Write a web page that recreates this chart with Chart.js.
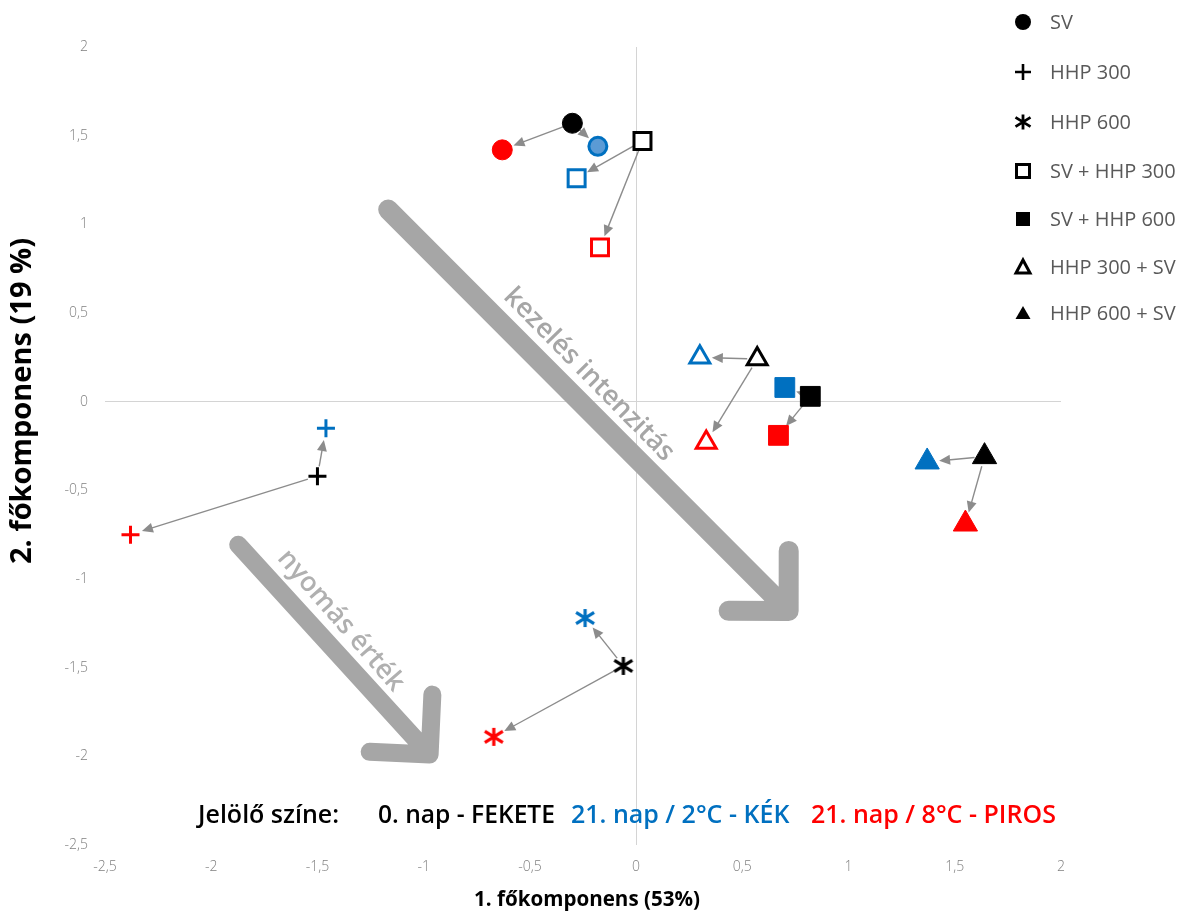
<!DOCTYPE html>
<html><head><meta charset="utf-8">
<script src="https://cdn.jsdelivr.net/npm/chart.js@4/dist/chart.umd.min.js"></script>
<style>html,body{margin:0;padding:0;background:#fff}#wrap{width:1181px;height:915px;position:relative}canvas{display:block}</style>
</head><body><div id="wrap"><canvas id="c" width="1181" height="915"></canvas></div>
<script>
// ---- data ----
const treatments = ['SV','HHP 300','HHP 600','SV + HHP 300','SV + HHP 600','HHP 300 + SV','HHP 600 + SV'];
const day0X  = [-0.30,-1.50,-0.06, 0.03, 0.82, 0.57, 1.64];
const day0Y  = [ 1.57,-0.42,-1.49, 1.47, 0.03, 0.24,-0.31];
const kekX   = [-0.18,-1.46,-0.24,-0.28, 0.70, 0.30, 1.37];
const kekY   = [ 1.44,-0.15,-1.22, 1.26, 0.08, 0.25,-0.34];
const pirosX = [-0.63,-2.38,-0.67,-0.17, 0.67, 0.33, 1.55];
const pirosY = [ 1.42,-0.75,-1.89, 0.87,-0.19,-0.23,-0.69];
const axisMin = -2.5, axisMax = 2, axisStep = 0.5;
const xTitle = '1. főkomponens (53%)';
const yTitle = '2. főkomponens (19 %)';
const colorLegend = ['Jelölő színe:', '0. nap - FEKETE', '21. nap / 2°C - KÉK', '21. nap / 8°C - PIROS'];
const arrowLabels = ['kezelés intenzitás', 'nyomás érték'];

// ---- styling ----
const BLACK = '#000000', BLUE = '#0070C0', RED = '#FF0000', BLUE_LIGHT = '#5B9BD5';

function makeStar(color, size, half, lw) {
  const c = document.createElement('canvas');
  c.width = size; c.height = size;
  const g = c.getContext('2d');
  const m = size / 2;
  g.strokeStyle = color; g.lineWidth = lw; g.lineCap = 'butt';
  g.beginPath();
  g.moveTo(m, m - half); g.lineTo(m, m + half);
  g.moveTo(m - half, m - half * 0.62); g.lineTo(m + half, m + half * 0.62);
  g.moveTo(m - half, m + half * 0.62); g.lineTo(m + half, m - half * 0.62);
  g.stroke();
  return c;
}

function seriesStyle(color, circleFill, circleBorderW) {
  return {
    pointStyle: ['circle', 'cross', makeStar(color, 24, 9, 3.2), 'rect', 'rect', 'triangle', 'triangle'],
    pointRadius: [10, 9, 10, 12, 14, 11.5, 14],
    backgroundColor: [circleFill, color, color, '#ffffff', color, '#ffffff', color],
    borderColor: color,
    borderWidth: [circleBorderW, 3, 0, 3, 1, 3, 1]
  };
}

function pts(xs, ys) { return xs.map((x, i) => ({x: x, y: ys[i]})); }

const datasets = [
  Object.assign({label: colorLegend[1], data: pts(day0X, day0Y)}, seriesStyle(BLACK, BLACK, 1)),
  Object.assign({label: colorLegend[2], data: pts(kekX, kekY)}, seriesStyle(BLUE, BLUE_LIGHT, 3)),
  Object.assign({label: colorLegend[3], data: pts(pirosX, pirosY)}, seriesStyle(RED, RED, 1))
];
datasets[1].pointRadius = [9, 9, 10, 12, 14, 11.5, 14];

const fmt = v => String(Math.round(v * 10) / 10).replace('.', ',');

// ---- plugins ----
function smallArrow(ctx, x1, y1, x2, y2, g1, g2) {
  const dx = x2 - x1, dy = y2 - y1, L = Math.hypot(dx, dy);
  const ux = dx / L, uy = dy / L;
  const sx = x1 + ux * g1, sy = y1 + uy * g1, ex = x2 - ux * g2, ey = y2 - uy * g2;
  const hl = 11, hw = 5;
  ctx.strokeStyle = '#8c8c8c'; ctx.fillStyle = '#8c8c8c'; ctx.lineWidth = 1.4;
  const bx = ex - ux * hl, by = ey - uy * hl;
  if ((bx - sx) * ux + (by - sy) * uy > 0) {
    ctx.beginPath(); ctx.moveTo(sx, sy); ctx.lineTo(bx + ux * 2, by + uy * 2); ctx.stroke();
  }
  ctx.beginPath(); ctx.moveTo(ex, ey);
  ctx.lineTo(bx - uy * hw, by + ux * hw); ctx.lineTo(bx + uy * hw, by - ux * hw);
  ctx.closePath(); ctx.fill();
}

function bigArrow(ctx, x1, y1, x2, y2, lw, arm) {
  const dx = x2 - x1, dy = y2 - y1, L = Math.hypot(dx, dy);
  const ux = -dx / L, uy = -dy / L;
  const c = Math.cos(Math.PI / 4), s = Math.sin(Math.PI / 4);
  ctx.save();
  ctx.strokeStyle = '#a6a6a6'; ctx.lineWidth = lw; ctx.lineCap = 'round'; ctx.lineJoin = 'round';
  ctx.beginPath(); ctx.moveTo(x1, y1); ctx.lineTo(x2, y2);
  ctx.moveTo(x2 + (ux * c - uy * s) * arm, y2 + (ux * s + uy * c) * arm);
  ctx.lineTo(x2, y2);
  ctx.lineTo(x2 + (ux * c + uy * s) * arm, y2 + (-ux * s + uy * c) * arm);
  ctx.stroke();
  ctx.restore();
}

function rotText(ctx, text, x, y, angDeg, font, color, maxW) {
  ctx.save();
  ctx.translate(x, y); ctx.rotate(angDeg * Math.PI / 180);
  ctx.font = font; ctx.fillStyle = color; ctx.textAlign = 'center'; ctx.textBaseline = 'middle';
  ctx.fillText(text, 0, 0, maxW);
  ctx.restore();
}

const annotations = {
  id: 'annotations',
  beforeDatasetsDraw(chart) {
    const {ctx, scales: {x, y}} = chart;
    ctx.save();
    bigArrow(ctx, x.getPixelForValue(-1.167), y.getPixelForValue(1.083), x.getPixelForValue(0.718), y.getPixelForValue(-1.18), 20, 60);
    bigArrow(ctx, x.getPixelForValue(-1.873), y.getPixelForValue(-0.807), x.getPixelForValue(-0.972), y.getPixelForValue(-1.99), 18, 60);
    rotText(ctx, arrowLabels[0], x.getPixelForValue(-0.222), y.getPixelForValue(0.152), 45.5, '600 27px "Open Sans"', '#a6a6a6', 238);
    rotText(ctx, arrowLabels[1], x.getPixelForValue(-1.39), y.getPixelForValue(-1.235), 49, '600 27px "Open Sans"', '#b0b0b0', 178);
    for (let i = 0; i < treatments.length; i++) {
      const x0 = x.getPixelForValue(day0X[i]), y0 = y.getPixelForValue(day0Y[i]);
      smallArrow(ctx, x0, y0, x.getPixelForValue(kekX[i]), y.getPixelForValue(kekY[i]), 10, 12);
      smallArrow(ctx, x0, y0, x.getPixelForValue(pirosX[i]), y.getPixelForValue(pirosY[i]), 10, 12);
    }
    ctx.restore();
  },
  afterDraw(chart) {
    const {ctx} = chart;
    ctx.save();
    rotText(ctx, yTitle, 23, 401, -90, 'bold 29px "Open Sans"', '#000', 328);
    ctx.font = 'bold 22px "Open Sans"'; ctx.fillStyle = '#000'; ctx.textAlign = 'center'; ctx.textBaseline = 'middle';
    ctx.fillText(xTitle, 587, 900, 226);
    const segs = [[198, 144, '#000'], [378, 177, '#000'], [571, 224, BLUE], [811, 247, RED]];
    ctx.textAlign = 'left'; ctx.textBaseline = 'alphabetic';
    segs.forEach((s, i) => {
      ctx.font = '600 25px "Open Sans"'; ctx.fillStyle = s[2];
      ctx.fillText(colorLegend[i], s[0], 823, s[1]);
    });
    const rows = [22, 72, 122, 171, 219, 267, 313];
    const mx = 1023;
    rows.forEach((ry, i) => {
      ctx.fillStyle = '#000'; ctx.strokeStyle = '#000';
      ctx.beginPath();
      switch (i) {
        case 0: ctx.arc(mx, ry, 8, 0, Math.PI * 2); ctx.fill(); break;
        case 1: ctx.lineWidth = 2.6; ctx.moveTo(mx - 8, ry); ctx.lineTo(mx + 8, ry); ctx.moveTo(mx, ry - 8); ctx.lineTo(mx, ry + 8); ctx.stroke(); break;
        case 2: { const st = makeStar('#000', 20, 7.5, 2.8); ctx.drawImage(st, mx - 10, ry - 10); break; }
        case 3: ctx.lineWidth = 3; ctx.strokeRect(mx - 6.5, ry - 6.5, 13, 13); break;
        case 4: ctx.fillRect(mx - 7, ry - 7, 14, 14); break;
        case 5: ctx.lineWidth = 3; ctx.lineJoin = 'miter'; ctx.moveTo(mx, ry - 7); ctx.lineTo(mx + 7, ry + 6); ctx.lineTo(mx - 7, ry + 6); ctx.closePath(); ctx.stroke(); break;
        case 6: ctx.moveTo(mx, ry - 7); ctx.lineTo(mx + 7.5, ry + 6); ctx.lineTo(mx - 7.5, ry + 6); ctx.closePath(); ctx.fill(); break;
      }
      ctx.font = '20px "Open Sans"'; ctx.fillStyle = '#595959'; ctx.textAlign = 'left'; ctx.textBaseline = 'middle';
      ctx.fillText(treatments[i], 1050, ry + 1);
    });
    ctx.restore();
  }
};

const tickFont = {family: '"Open Sans"', size: 14, weight: '300'};
const zeroGrid = {
  drawTicks: false,
  lineWidth: 1,
  color: c => (c.tick && Math.abs(c.tick.value) < 1e-9) ? '#d4d4d4' : 'rgba(0,0,0,0)'
};

new Chart(document.getElementById('c'), {
  type: 'scatter',
  data: {datasets},
  options: {
    responsive: false,
    animation: false,
    events: [],
    layout: {padding: {top: 47, right: 120, bottom: 0, left: 0}},
    plugins: {legend: {display: false}, tooltip: {enabled: false}},
    scales: {
      x: {
        type: 'linear', min: axisMin, max: axisMax,
        ticks: {stepSize: axisStep, padding: 14, color: '#808080', font: tickFont, callback: v => fmt(v), maxRotation: 0, autoSkip: false},
        grid: zeroGrid, border: {display: false},
        afterFit: s => { s.height = 70; }
      },
      y: {
        type: 'linear', min: axisMin, max: axisMax,
        ticks: {stepSize: axisStep, padding: 17, color: '#808080', font: tickFont, callback: v => fmt(v), autoSkip: false},
        grid: zeroGrid, border: {display: false},
        afterFit: s => { s.width = 105; }
      }
    }
  },
  plugins: [annotations]
});
</script>
</body></html>
